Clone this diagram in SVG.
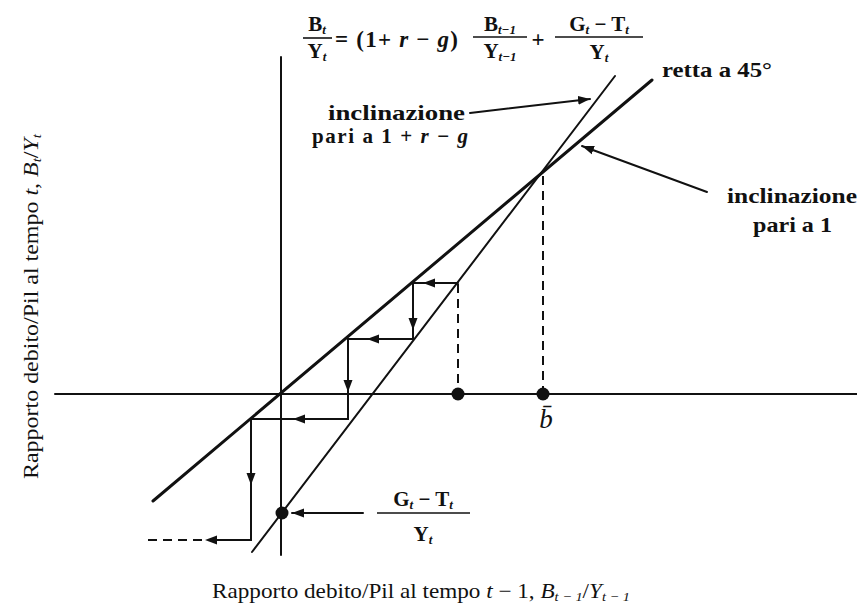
<svg xmlns="http://www.w3.org/2000/svg" xmlns:xlink="http://www.w3.org/1999/xlink" width="857" height="614" viewBox="0 0 857 614">
<style>
text{font-family:"Liberation Serif","Times New Roman",serif;fill:#111}
.b{font-weight:bold}
.i{font-style:italic}
.lbl{font-size:21px;font-weight:bold}
.ax{font-size:21px}
.f{font-size:21px;font-weight:bold}
.fe{font-size:23px;font-weight:bold}
.s{font-size:13px;font-style:italic}
.ln{stroke:#111;fill:none;stroke-linecap:round}
.thin{stroke-width:2}
.thick{stroke-width:3}
.dash{stroke:#111;stroke-width:2;stroke-dasharray:9 6;fill:none}
.bar{stroke:#111;stroke-width:1.6}
</style>
<defs>
<path id="ah" d="M0,0 L-12,-4.5 L-12,4.5 Z" fill="#111"/>
<marker id="arr" markerWidth="14" markerHeight="10" refX="12" refY="5" orient="auto" markerUnits="userSpaceOnUse">
<path d="M0,0.5 L12,5 L0,9.5 Z" fill="#111"/>
</marker>
</defs>

<g id="axes">
<line class="ln thin" x1="55" y1="394" x2="857" y2="394"/>
<line class="ln thin" x1="281" y1="57" x2="281" y2="555"/>
</g>

<g id="line45">
<line class="ln thick" x1="153" y1="501" x2="652" y2="80"/>
</g>
<g id="lineSteep">
<line class="ln thin" x1="252" y1="552" x2="615" y2="76"/>
</g>

<g id="connectors">
<line class="dash" x1="458" y1="284" x2="458" y2="388"/>
<line class="dash" x1="543" y1="176" x2="543" y2="388"/>
<polyline class="ln thin" points="458,283 413,283 413,339 348,339 348,419 251,419 251,540 215,540"/>
<line class="dash" x1="148" y1="540" x2="205" y2="540"/>
<use xlink:href="#ah" href="#ah" transform="translate(423,283) rotate(180)"/>
<use xlink:href="#ah" href="#ah" transform="translate(413,330) rotate(90)"/>
<use xlink:href="#ah" href="#ah" transform="translate(367,339) rotate(180)"/>
<use xlink:href="#ah" href="#ah" transform="translate(348,392) rotate(90)"/>
<use xlink:href="#ah" href="#ah" transform="translate(293,419) rotate(180)"/>
<use xlink:href="#ah" href="#ah" transform="translate(251,485) rotate(90)"/>
<use xlink:href="#ah" href="#ah" transform="translate(205,540) rotate(180)"/>
<line class="ln thin" x1="470" y1="113" x2="590" y2="99" marker-end="url(#arr)"/>
<line class="ln thin" x1="707" y1="192" x2="582" y2="146" marker-end="url(#arr)"/>
<line class="ln thin" x1="363" y1="513" x2="292" y2="513" marker-end="url(#arr)"/>
</g>

<g id="dots">
<circle cx="458" cy="394" r="6.5" fill="#111"/>
<circle cx="543" cy="394" r="6.5" fill="#111"/>
<circle cx="282" cy="513" r="6.5" fill="#111"/>
</g>

<g id="bbar">
<text x="546" y="428" text-anchor="middle" class="i" style="font-size:27px">b̄</text>
</g>

<g id="formula">
<text x="317" y="31" text-anchor="middle" class="f">B<tspan class="s" dy="3">t</tspan></text>
<line class="bar" x1="303" y1="38" x2="332" y2="38"/>
<text x="317" y="58" text-anchor="middle" class="f">Y<tspan class="s" dy="3">t</tspan></text>
<text x="335" y="47" class="fe" textLength="123" lengthAdjust="spacing">= (1+ <tspan class="i">r</tspan> − <tspan class="i">g</tspan>)</text>
<text x="500" y="31" text-anchor="middle" class="f">B<tspan class="s" dy="3">t−1</tspan></text>
<line class="bar" x1="473" y1="37" x2="527" y2="37"/>
<text x="500" y="58" text-anchor="middle" class="f">Y<tspan class="s" dy="3">t−1</tspan></text>
<text x="538" y="47" text-anchor="middle" class="fe">+</text>
<text x="599" y="31" text-anchor="middle" class="f">G<tspan class="s" dy="3">t</tspan><tspan dy="-3"> − T</tspan><tspan class="s" dy="3">t</tspan></text>
<line class="bar" x1="555" y1="37" x2="643" y2="37"/>
<text x="599" y="59" text-anchor="middle" class="f">Y<tspan class="s" dy="3">t</tspan></text>
</g>

<g id="retta45">
<text x="662" y="77" class="lbl" textLength="110" lengthAdjust="spacingAndGlyphs">retta a 45°</text>
</g>

<g id="inclSteep">
<text x="328" y="120" class="lbl" textLength="137" lengthAdjust="spacingAndGlyphs">inclinazione</text>
<text x="312" y="143" class="lbl" textLength="156" lengthAdjust="spacing">pari a 1 + <tspan class="i">r</tspan> − <tspan class="i">g</tspan></text>
</g>

<g id="incl45">
<text x="727" y="203" class="lbl" textLength="130" lengthAdjust="spacingAndGlyphs">inclinazione</text>
<text x="753" y="232" class="lbl" textLength="79" lengthAdjust="spacingAndGlyphs">pari a 1</text>
</g>

<g id="gtLabel">
<text x="423" y="506" text-anchor="middle" class="f">G<tspan class="s" dy="3">t</tspan><tspan dy="-3"> − T</tspan><tspan class="s" dy="3">t</tspan></text>
<line class="bar" x1="377" y1="513" x2="470" y2="513"/>
<text x="423" y="541" text-anchor="middle" class="f">Y<tspan class="s" dy="3">t</tspan></text>
</g>

<g id="yLabel">
<text transform="translate(38,307) rotate(-90)" x="-172" y="0" class="ax" textLength="345" lengthAdjust="spacingAndGlyphs">Rapporto debito/Pil al tempo <tspan class="i">t</tspan>, <tspan class="i">B</tspan><tspan class="s" dy="3">t</tspan><tspan dy="-3">/</tspan><tspan class="i">Y</tspan><tspan class="s" dy="3">t</tspan></text>
</g>

<g id="xLabel">
<text x="212" y="598" class="ax" textLength="418" lengthAdjust="spacingAndGlyphs">Rapporto debito/Pil al tempo <tspan class="i">t</tspan> − 1, <tspan class="i">B</tspan><tspan class="s" dy="3">t − 1</tspan><tspan dy="-3">/</tspan><tspan class="i">Y</tspan><tspan class="s" dy="3">t − 1</tspan></text>
</g>
</svg>
